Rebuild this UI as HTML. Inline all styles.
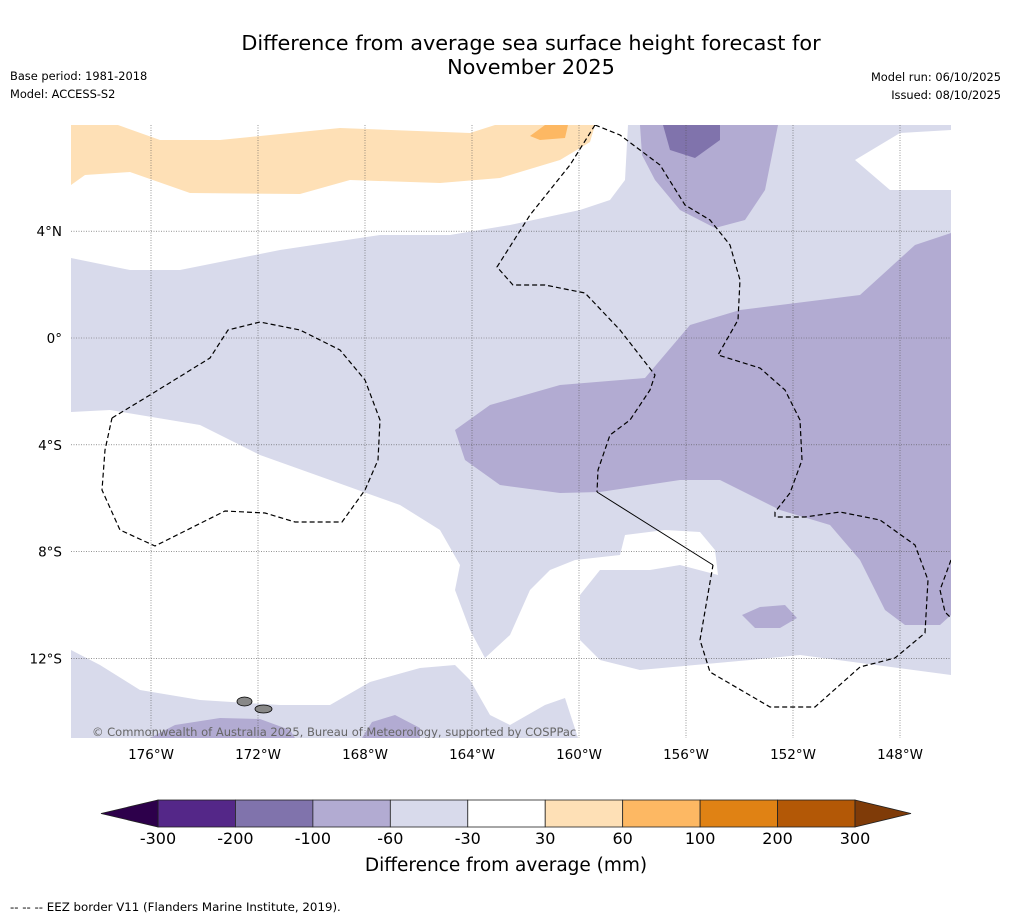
<!DOCTYPE html>
<html><head><meta charset="utf-8"><style>
body{margin:0;background:#fff;font-family:"DejaVu Sans","Liberation Sans",sans-serif;}
svg text{font-family:"DejaVu Sans","Liberation Sans",sans-serif;}
</style></head><body>
<svg id="s" width="1011" height="919" viewBox="0 0 1011 919" xmlns="http://www.w3.org/2000/svg">
<rect width="1011" height="919" fill="#fff"/>
<text x="531" y="50" font-size="20.8" text-anchor="middle">Difference from average sea surface height forecast for</text>
<text x="531" y="74" font-size="20.8" text-anchor="middle">November 2025</text>
<text x="10" y="80" font-size="11.4">Base period: 1981-2018</text>
<text x="10" y="98" font-size="11.4">Model: ACCESS-S2</text>
<text x="1001" y="81" font-size="11.4" text-anchor="end">Model run: 06/10/2025</text>
<text x="1001" y="99" font-size="11.4" text-anchor="end">Issued: 08/10/2025</text>
<defs><clipPath id="mc"><rect x="71" y="125" width="880" height="613"/></clipPath></defs>
<g id="map" clip-path="url(#mc)"></g>
<g id="axes"></g>
<g id="cbar"></g>
<text x="506" y="871" font-size="18.5" text-anchor="middle">Difference from average (mm)</text>
<text x="10" y="911" font-size="11.8">-- -- -- EEZ border V11 (Flanders Marine Institute, 2019).</text>
</svg>
<script>
// colour scale data
const levels=[-300,-200,-100,-60,-30,30,60,100,200,300];
const colors=['#542788','#8073ac','#b2abd2','#d8daeb','#ffffff','#fee0b6','#fdb863','#e08214','#b35806'];
const extLow='#2d004b', extHigh='#7f3b08';
const lonTicks=[-176,-172,-168,-164,-160,-156,-152,-148];
const latTicks=[4,0,-4,-8,-12];
// contour regions (pixel-space outline estimates converted via projection)
const P=(x,y)=>[-176+(x-151)/26.75,(338-y)/26.7];
const raw={
 lightPurple:[[71,258],[130,270],[180,270],[280,250],[380,235],[450,235],[510,225],[580,210],[610,200],[625,180],[628,125],[951,125],[951,130],[900,133],[855,160],[890,190],[951,190],[951,675],[800,655],[750,660],[640,670],[600,660],[580,640],[580,595],[600,570],[650,570],[680,565],[718,575],[715,550],[700,532],[665,530],[625,535],[620,555],[575,560],[550,570],[530,590],[510,635],[485,658],[470,630],[455,590],[460,565],[440,530],[400,505],[330,480],[260,455],[200,425],[110,410],[71,412]],
 lightPurpleSouth:[[71,650],[100,665],[140,690],[200,700],[280,705],[330,705],[370,682],[420,668],[455,665],[470,680],[490,715],[510,725],[545,705],[565,698],[578,738],[71,738]],
 midPurpleN:[[640,125],[778,125],[765,190],[745,220],[715,228],[680,210],[655,180],[642,155]],
 midPurpleE:[[951,233],[915,245],[860,295],[740,310],[690,325],[645,378],[560,385],[490,405],[455,430],[465,460],[500,485],[560,493],[600,492],[680,480],[720,480],[780,510],[830,525],[860,560],[885,610],[905,625],[940,625],[951,615]],
 midPurpleSmall:[[742,615],[760,607],[785,605],[797,618],[780,628],[755,628]],
 midPurpleS1:[[150,738],[175,725],[220,718],[260,719],[290,730],[295,738]],
 midPurpleS2:[[362,738],[372,722],[395,715],[420,728],[420,738]],
 darkPurple:[[663,125],[720,125],[720,140],[695,158],[670,150]],
 lightOrange:[[71,125],[118,125],[160,140],[220,140],[340,128],[470,133],[495,125],[595,125],[590,142],[560,160],[500,178],[440,183],[350,180],[300,194],[190,193],[130,172],[85,175],[71,185]],
 midOrange:[[545,125],[568,125],[565,138],[540,140],[530,136]]
};
const regionFill={lightPurple:colors[3],lightPurpleSouth:colors[3],midPurpleN:colors[2],midPurpleE:colors[2],midPurpleSmall:colors[2],midPurpleS1:colors[2],midPurpleS2:colors[2],darkPurple:colors[1],lightOrange:colors[5],midOrange:colors[6]};
const eezRaw=[
 [[112,418],[150,395],[210,358],[228,330],[260,322],[300,330],[340,350],[365,380],[380,420],[378,460],[365,490],[342,522],[295,522],[265,513],[225,511],[155,546],[120,530],[102,490],[105,450],[112,418]],
 [[595,125],[620,135],[660,165],[685,205],[710,220],[730,245],[740,280],[738,320],[718,355],[760,368],[785,390],[800,420],[802,460],[790,493],[775,512],[775,517],[805,517],[840,512],[880,520],[915,545],[928,580],[925,633],[895,658],[860,667],[815,707],[770,707],[710,672],[700,640],[713,565]],
 [[595,125],[570,165],[530,215],[497,267],[513,285],[545,285],[585,293],[620,330],[655,375],[650,390],[630,420],[610,435],[598,470],[597,492]],
 [[951,560],[940,590],[945,612],[951,618]]
];
const X=lon=>151+(lon+176)*26.75, Y=lat=>338-lat*26.7;
const NS='http://www.w3.org/2000/svg';
function mk(t,a,parent){const e=document.createElementNS(NS,t);for(const k in a)e.setAttribute(k,a[k]);parent.appendChild(e);return e;}
const map=document.getElementById('map');
const ptsStr=arr=>arr.map(p=>{const g=P(p[0],p[1]);return X(g[0]).toFixed(1)+','+Y(g[1]).toFixed(1)}).join(' ');
for(const k in raw){
 const e=mk('polygon',{points:ptsStr(raw[k]),fill:regionFill[k]},map);
 
 
}
lonTicks.forEach(l=>{const e=mk('line',{x1:X(l),x2:X(l),y1:125,y2:738,stroke:'#555','stroke-width':0.6,'stroke-dasharray':'1,1.5'},map);
 
 });
latTicks.forEach(l=>{const e=mk('line',{x1:71,x2:951,y1:Y(l),y2:Y(l),stroke:'#555','stroke-width':0.6,'stroke-dasharray':'1,1.5'},map);
 
 });
eezRaw.forEach(seg=>{const e=mk('polyline',{points:ptsStr(seg),fill:'none',stroke:'#000','stroke-width':1.2,'stroke-dasharray':'5,3'},map);
 
 });
const sl=mk('line',{x1:597,y1:492,x2:713,y2:565,stroke:'#000','stroke-width':1},map);


[[237,698,252,705],[255,706,272,712]].forEach(r=>{const e=mk('ellipse',{cx:(r[0]+r[2])/2,cy:(r[1]+r[3])/2,rx:(r[2]-r[0])/2,ry:(r[3]-r[1])/2+1,fill:'#888',stroke:'#000','stroke-width':0.8},map);
 
 });
const ct=mk('text',{x:92,y:736,'font-size':11.5,fill:'#666'},map);ct.textContent='© Commonwealth of Australia 2025, Bureau of Meteorology, supported by COSPPac';


const axes=document.getElementById('axes');
lonTicks.forEach(l=>{const e=mk('text',{x:X(l),y:759,'font-size':13.5,'text-anchor':'middle'},axes);e.textContent=(-l)+'°W';
 
 });
latTicks.forEach(l=>{const e=mk('text',{x:62,y:Y(l)+5,'font-size':13.5,'text-anchor':'end'},axes);e.textContent=l===0?'0°':Math.abs(l)+'°'+(l>0?'N':'S');
 
 });
// colorbar
const cb=document.getElementById('cbar');const cx0=158,cx1=855,cy=800,ch=27;const bw=(cx1-cx0)/colors.length;
colors.forEach((c,i)=>{const e=mk('rect',{x:cx0+i*bw,y:cy,width:bw,height:ch,fill:c,stroke:'#222','stroke-width':0.8},cb);
 
 });
const tl=mk('polygon',{points:`${cx0},${cy} ${cx0},${cy+ch} 101,${cy+ch/2}`,fill:extLow,stroke:'#222','stroke-width':0.8},cb);


const th=mk('polygon',{points:`${cx1},${cy} ${cx1},${cy+ch} 911,${cy+ch/2}`,fill:extHigh,stroke:'#222','stroke-width':0.8},cb);


levels.forEach((v,i)=>{const e=mk('text',{x:cx0+i*bw,y:844,'font-size':16,'text-anchor':'middle'},cb);e.textContent=v;
 
 });
</script>
</body></html>
